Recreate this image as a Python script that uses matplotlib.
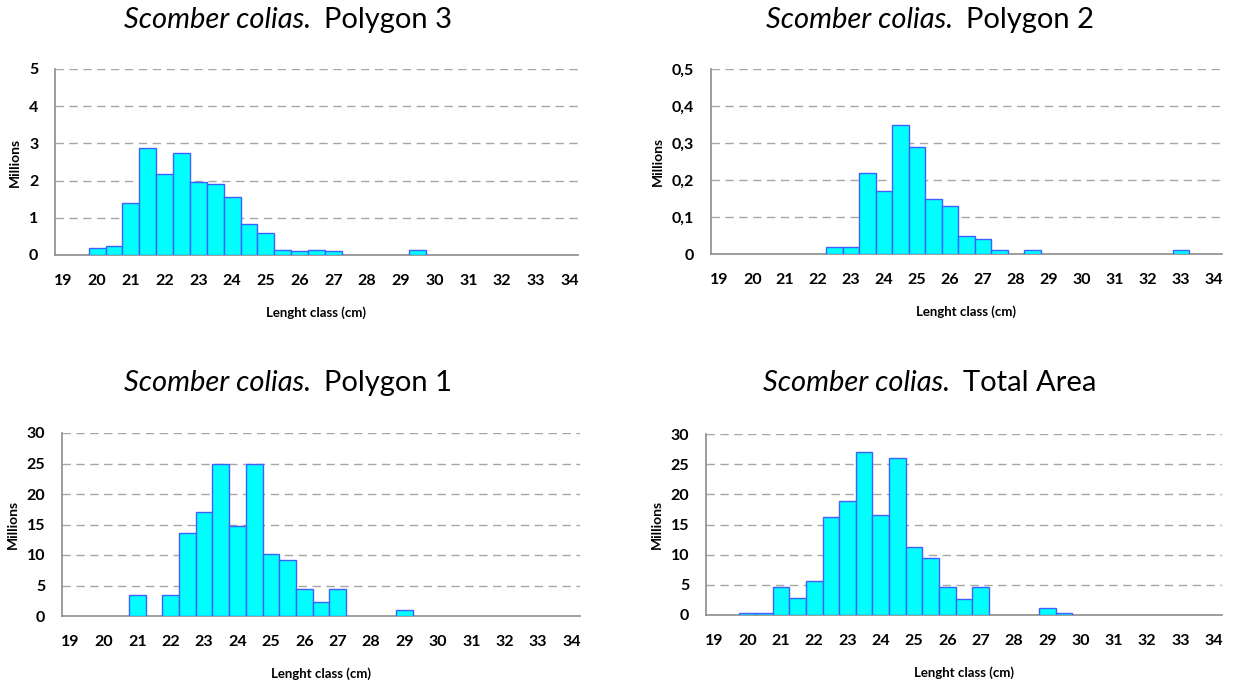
import matplotlib
matplotlib.use("Agg")
import matplotlib.pyplot as plt
import numpy as np

plt.rcParams['font.family'] = ['Lato', 'DejaVu Sans']

# ---------------- data ----------------
length_class = [19, 19.5, 20, 20.5, 21, 21.5, 22, 22.5, 23, 23.5, 24, 24.5, 25, 25.5,
                26, 26.5, 27, 27.5, 28, 28.5, 29, 29.5, 30, 30.5, 31, 31.5, 32, 32.5,
                33, 33.5, 34]
x_tick_labels = ['19', '20', '21', '22', '23', '24', '25', '26', '27', '28', '29',
                 '30', '31', '32', '33', '34']

polygon3 = [0, 0, 0.18, 0.24, 1.40, 2.88, 2.18, 2.74, 1.96, 1.90, 1.56, 0.84, 0.60, 0.13,
            0.11, 0.13, 0.11, 0, 0, 0, 0, 0.13, 0, 0, 0, 0, 0, 0, 0, 0, 0]
polygon2 = [0, 0, 0, 0, 0, 0, 0, 0.02, 0.02, 0.22, 0.17, 0.35, 0.29, 0.15,
            0.13, 0.05, 0.04, 0.01, 0, 0.01, 0, 0, 0, 0, 0, 0, 0, 0, 0.01, 0, 0]
polygon1 = [0, 0, 0, 0, 3.4, 0, 3.4, 13.6, 17.0, 25.0, 14.7, 25.0, 10.2, 9.1,
            4.5, 2.3, 4.5, 0, 0, 0, 1.0, 0, 0, 0, 0, 0, 0, 0, 0, 0, 0]
total_area = [0, 0, 0.3, 0.3, 4.7, 2.8, 5.6, 16.3, 18.9, 27.0, 16.5, 26.1, 11.2, 9.4,
              4.7, 2.6, 4.7, 0, 0, 0, 1.1, 0.3, 0, 0, 0, 0, 0, 0, 0, 0, 0]

titles = ['Polygon 3', 'Polygon 2', 'Polygon 1', 'Total Area']
species = 'Scomber colias.'

yticks_p3 = [0, 1, 2, 3, 4, 5]
yticklabels_p3 = ['0', '1', '2', '3', '4', '5']
yticks_p2 = [0, 0.1, 0.2, 0.3, 0.4, 0.5]
yticklabels_p2 = ['0', '0,1', '0,2', '0,3', '0,4', '0,5']
yticks_big = [0, 5, 10, 15, 20, 25, 30]
yticklabels_big = ['0', '5', '10', '15', '20', '25', '30']

# ---------------- figure ----------------
W, H = 1236, 687
fig = plt.figure(figsize=(W / 100, H / 100), dpi=100)

def px_axes(l, r, t, b):
    return [l / W, 1 - b / H, (r - l) / W, (b - t) / H]

panels = [
    (px_axes(55, 578, 69, 255), polygon3, yticks_p3, yticklabels_p3, titles[0], (288, 20)),
    (px_axes(711, 1222, 69, 254), polygon2, yticks_p2, yticklabels_p2, titles[1], (930, 20)),
    (px_axes(62, 580, 433, 616), polygon1, yticks_big, yticklabels_big, titles[2], (288, 383)),
    (px_axes(706, 1222, 434, 615), total_area, yticks_big, yticklabels_big, titles[3], (930, 383)),
]

FILL = '#00FFFF'
EDGE = '#3F60FF'
GRID = '#A6A6A6'
AXIS = '#8C8C8C'

renderer = fig.canvas.get_renderer()

for rect, vals, yt, ytl, ttl, (tx, ty) in panels:
    ax = fig.add_axes(rect)
    idx = np.arange(len(length_class))
    v = np.array(vals, dtype=float)
    mask = v > 0
    ax.bar(idx[mask], v[mask], width=1.0, color=FILL, edgecolor=EDGE,
           linewidth=1.0, zorder=3)
    ax.set_xlim(-0.5, len(length_class) - 0.5)
    ax.set_ylim(yt[0], yt[-1])
    ax.set_yticks(yt)
    ax.set_yticklabels(ytl, fontsize=11.5, fontweight='bold')
    ax.set_xticks(idx[::2])
    ax.set_xticklabels(x_tick_labels, fontsize=11.5, fontweight='bold')
    ax.tick_params(axis='both', length=0)
    ax.tick_params(axis='x', pad=14)
    ax.tick_params(axis='y', pad=12)
    for s in ['top', 'right']:
        ax.spines[s].set_visible(False)
    for s in ['left', 'bottom']:
        ax.spines[s].set_color(AXIS)
        ax.spines[s].set_linewidth(1.2)
    for y in yt[1:]:
        ax.axhline(y, color=GRID, linestyle=(0, (6, 4)), linewidth=1.0, zorder=1)
    ax.set_ylabel('Millions', fontsize=10, fontweight='bold', labelpad=6)
    ax.set_xlabel('Lenght class (cm)', fontsize=9.5, fontweight='bold', labelpad=13)

    # title: italic species + regular area name, centered at tx
    t1 = fig.text(0, 1 - ty / H, species, fontsize=21, style='italic', va='center')
    t2 = fig.text(0, 1 - ty / H, ttl, fontsize=21, va='center')
    w1 = t1.get_window_extent(renderer).width
    w2 = t2.get_window_extent(renderer).width
    gap = 13
    x0 = tx - (w1 + gap + w2) / 2
    t1.set_x(x0 / W)
    t2.set_x((x0 + w1 + gap) / W)

fig.savefig('out.png', dpi=100)
